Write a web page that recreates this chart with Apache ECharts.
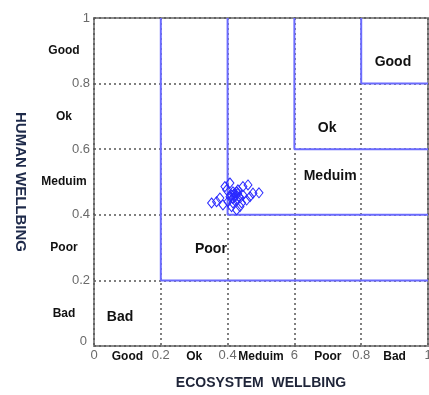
<!DOCTYPE html>
<html><head><meta charset="utf-8">
<script src="https://cdn.jsdelivr.net/npm/echarts@6/dist/echarts.min.js"></script>
<style>html,body{margin:0;padding:0;background:#fff}#c{width:429px;height:395px}</style>
</head><body><div id="c"></div>
<script>
// ---- data ----
var xTickLabels = ['0', '0.2', '0.4', '6', '0.8', '1'];
var yTickLabels = ['0', '0.2', '0.4', '0.6', '0.8', '1'];
var xCategories = ['Good', 'Ok', 'Meduim', 'Poor', 'Bad'];
var yCategories = ['Bad', 'Poor', 'Meduim', 'Ok', 'Good'];
var thresholds = [0.2, 0.4, 0.6, 0.8];
var regionNames = ['Bad', 'Poor', 'Meduim', 'Ok', 'Good'];
var ecosystem = [0.352, 0.377, 0.392, 0.407, 0.416, 0.422, 0.431, 0.446, 0.461, 0.476, 0.494, 0.437, 0.416, 0.401, 0.386, 0.427, 0.457, 0.467, 0.446, 0.407, 0.397, 0.437, 0.427, 0.412, 0.442, 0.367, 0.418, 0.425, 0.420, 0.430, 0.415, 0.428, 0.412, 0.435];
var human = [0.436, 0.451, 0.486, 0.497, 0.470, 0.466, 0.476, 0.486, 0.491, 0.466, 0.467, 0.425, 0.436, 0.440, 0.430, 0.415, 0.445, 0.455, 0.460, 0.455, 0.476, 0.451, 0.445, 0.425, 0.436, 0.440, 0.462, 0.458, 0.455, 0.465, 0.450, 0.470, 0.460, 0.455];

// ---- presentation ----
var regionLabelPos = [[0.078, 0.088], [0.35, 0.296], [0.707, 0.518], [0.698, 0.665], [0.895, 0.866]];
var FONT = '"Liberation Sans", Arial, sans-serif';

var points = ecosystem.map(function (x, i) { return [x, human[i]]; });
var blueSeries = thresholds.map(function (t) {
  return {
    type: 'line', xAxisIndex: 0, yAxisIndex: 0, symbol: 'none', silent: true, z: 3,
    lineStyle: { color: '#6b6bff', width: 2 },
    data: [[t, 1], [t, t], [1, t]]
  };
});
var labelData = regionNames.map(function (n, i) {
  return { value: regionLabelPos[i], name: n };
});

var chart = echarts.init(document.getElementById('c'), null, { renderer: 'canvas' });
chart.setOption({
  animation: false,
  backgroundColor: '#fff',
  grid: { left: 94, right: 1, top: 18, bottom: 49, outerBoundsMode: 'none', containLabel: false,
    show: true, borderColor: '#8a8a8a', borderWidth: 2 },
  xAxis: [{
    type: 'value', min: 0, max: 1, interval: 0.2, position: 'bottom',
    name: 'ECOSYSTEM  WELLBING', nameLocation: 'middle', nameGap: 30,
    nameTextStyle: { fontFamily: FONT, fontWeight: 'bold', fontSize: 14, color: '#1e2438' },
    axisLine: { show: false }, axisTick: { show: false },
    splitLine: { show: true, lineStyle: { color: '#555', width: 1.5, type: [2, 3] } },
    axisLabel: { margin: 3, fontFamily: FONT, fontSize: 13, color: '#6a6a6a',
      formatter: function (v, i) { return xTickLabels[Math.round(v * 5)]; } }
  }, {
    type: 'value', min: 0, max: 1, interval: 0.1, position: 'bottom',
    axisLine: { show: false }, axisTick: { show: false }, splitLine: { show: false },
    axisLabel: { margin: 5, fontFamily: FONT, fontSize: 12, fontWeight: 'bold', color: '#111',
      formatter: function (v) { var k = Math.round(v * 10); return k % 2 === 1 ? xCategories[(k - 1) / 2] : ''; } }
  }],
  yAxis: [{
    type: 'value', min: 0, max: 1, interval: 0.2, position: 'left',
    name: 'HUMAN WELLBING', nameLocation: 'middle', nameGap: 66, nameRotate: -90,
    nameTextStyle: { fontFamily: FONT, fontWeight: 'bold', fontSize: 15, color: '#1e2a4a' },
    axisLine: { show: false }, axisTick: { show: false },
    splitLine: { show: true, lineStyle: { color: '#555', width: 1.5, type: [2, 3] } },
    axisLabel: { margin: 4, fontFamily: FONT, fontSize: 13, color: '#6a6a6a',
      formatter: function (v) { var k = Math.round(v * 5); return k === 0 ? '{z|' + yTickLabels[0] + '}' : yTickLabels[k]; },
      rich: { z: { fontFamily: FONT, fontSize: 13, color: '#6a6a6a', padding: [0, 3, 10, 0] } } }
  }, {
    type: 'value', min: 0, max: 1, interval: 0.1, position: 'left',
    axisLine: { show: false }, axisTick: { show: false }, splitLine: { show: false },
    axisLabel: { margin: 30, align: 'center', fontFamily: FONT, fontSize: 12, fontWeight: 'bold', color: '#111',
      formatter: function (v) { var k = Math.round(v * 10); return k % 2 === 1 ? yCategories[(k - 1) / 2] : ''; } }
  }],
  series: blueSeries.concat([{
    type: 'scatter', xAxisIndex: 0, yAxisIndex: 0, symbol: 'diamond', symbolSize: [8, 10], z: 5,
    itemStyle: { color: 'rgba(0,0,0,0)', borderColor: '#2a2aff', borderWidth: 1, opacity: 1 },
    data: points
  }, {
    type: 'scatter', xAxisIndex: 0, yAxisIndex: 0, symbolSize: 0, z: 6, silent: true,
    itemStyle: { opacity: 1 },
    label: { show: true, position: 'inside', formatter: '{b}', fontFamily: FONT, fontSize: 14, fontWeight: 'bold', color: '#111' },
    data: labelData
  }])
});
</script></body></html>
